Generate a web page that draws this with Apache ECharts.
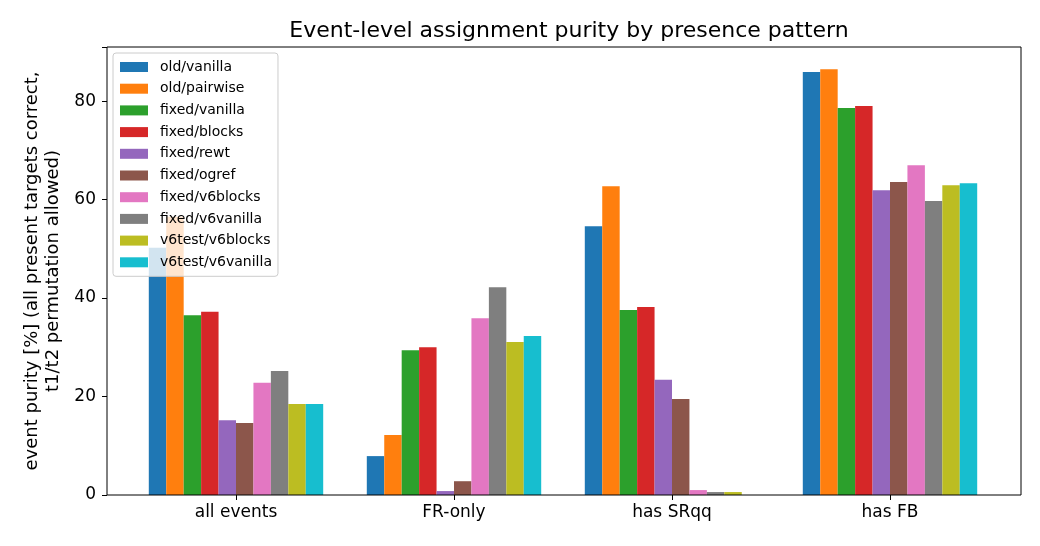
<!DOCTYPE html>
<html><head><meta charset="utf-8">
<script src="https://cdn.jsdelivr.net/npm/echarts@6/dist/echarts.min.js"></script>
<style>html,body{margin:0;padding:0;background:#fff}#c{width:1040px;height:546px}</style>
</head><body><div id="c"></div>
<script>
const categories = ["all events", "FR-only", "has SRqq", "has FB"];
const seriesNames = ["old/vanilla","old/pairwise","fixed/vanilla","fixed/blocks","fixed/rewt","fixed/ogref","fixed/v6blocks","fixed/v6vanilla","v6test/v6blocks","v6test/v6vanilla"];
const oldVanilla      = [50.2, 7.9, 54.6, 85.9];
const oldPairwise     = [56.5, 12.2, 62.7, 86.5];
const fixedVanilla    = [36.5, 29.4, 37.6, 78.6];
const fixedBlocks     = [37.2, 30.0, 38.2, 79.0];
const fixedRewt       = [15.2, 0.8, 23.4, 61.9];
const fixedOgref      = [14.6, 2.8, 19.5, 63.6];
const fixedV6blocks   = [22.8, 35.9, 1.0, 67.0];
const fixedV6vanilla  = [25.2, 42.2, 0.6, 59.7];
const v6testV6blocks  = [18.5, 31.1, 0.6, 62.9];
const v6testV6vanilla = [18.5, 32.3, 0.0, 63.3];
const yTicks = [0, 20, 40, 60, 80];
const colors = ["#1f77b4","#ff7f0e","#2ca02c","#d62728","#9467bd","#8c564b","#e377c2","#7f7f7f","#bcbd22","#17becf"];
const allValues = [oldVanilla, oldPairwise, fixedVanilla, fixedBlocks, fixedRewt, fixedOgref, fixedV6blocks, fixedV6vanilla, v6testV6blocks, v6testV6vanilla];

const font = "DejaVu Sans";
const chart = echarts.init(document.getElementById('c'));
chart.setOption({
  animation: false,
  textStyle: { fontFamily: font },
  title: { text: "Event-level assignment purity by presence pattern", left: 564, top: 15, textAlign: 'center',
    textStyle: { fontFamily: font, fontSize: 22, fontWeight: 'normal', color: '#000' } },
  legend: {
    orient: 'vertical', left: 113, top: 53, itemWidth: 28, itemHeight: 10, itemGap: 7.7,
    padding: [7, 6, 7, 7],
    backgroundColor: 'rgba(255,255,255,0.8)', borderColor: '#cccccc', borderWidth: 1, borderRadius: 3,
    textStyle: { fontFamily: font, fontSize: 14, lineHeight: 12, color: '#000', padding: [0, 0, 0, 7] },
    data: seriesNames.map(n => ({ name: n, icon: 'rect' })),
    z: 10
  },
  grid: [
    { left: 127, right: 41, top: 47, bottom: 51 },
    { left: 107, right: 19, top: 47, bottom: 51, show: true, borderColor: '#000', borderWidth: 1, backgroundColor: 'transparent', z: 5 }
  ],
  xAxis: [
    { type: 'category', gridIndex: 0, data: categories,
      axisLine: { show: false },
      axisTick: { show: true, alignWithLabel: true, length: 5, lineStyle: { color: '#000' } },
      axisLabel: { color: '#000', fontSize: 17, margin: 9, fontFamily: font } },
    { type: 'value', gridIndex: 1, min: 0, max: 1, show: false }
  ],
  yAxis: [
    { type: 'value', gridIndex: 0, min: 0, max: 91, interval: 20, show: false },
    { type: 'value', gridIndex: 1, min: 0, max: 91, interval: 20,
      axisLine: { show: false }, splitLine: { show: false },
      axisTick: { show: true, length: 5, lineStyle: { color: '#000' } },
      axisLabel: { color: '#000', fontSize: 17, margin: 11, fontFamily: font,
        formatter: v => yTicks.includes(v) ? String(v) : '' },
      name: "event purity [%] (all present targets correct,\nt1/t2 permutation allowed)",
      nameLocation: 'middle', nameGap: 43, nameRotate: 90,
      nameTextStyle: { color: '#000', fontSize: 18, fontFamily: font, lineHeight: 21 } }
  ],
  series: seriesNames.map((n, i) => ({
    name: n, type: 'bar', xAxisIndex: 0, yAxisIndex: 0,
    data: allValues[i], barGap: '0%', barCategoryGap: '20%',
    itemStyle: { color: colors[i] }
  }))
});
</script></body></html>
